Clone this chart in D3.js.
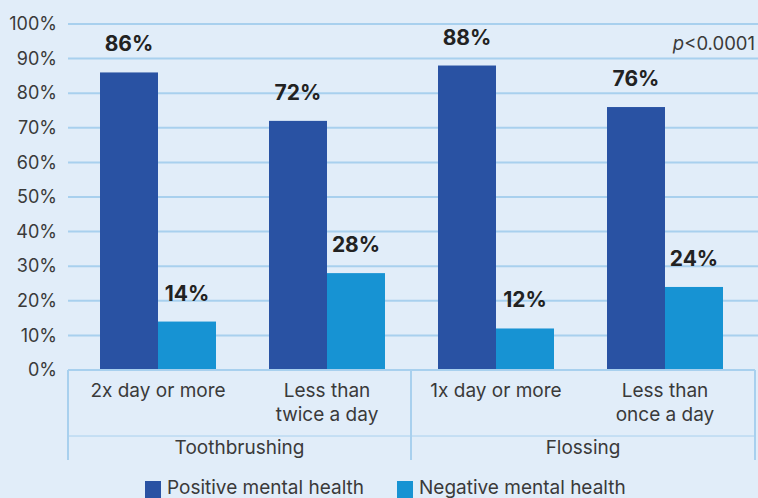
<!DOCTYPE html>
<html>
<head>
<meta charset="utf-8">
<script src="https://cdn.jsdelivr.net/npm/d3@7"></script>
<style>
  html, body { margin: 0; padding: 0; background: #E1EDF9; }
  svg { display: block; font-family: "Inter", "Noto Sans", sans-serif; }
</style>
</head>
<body>
<svg id="chart" width="758" height="498"></svg>
<script>
// Oral-hygiene habits vs. self-reported mental health
const groups = ["Toothbrushing", "Flossing"];
const categories = ["2x day or more", "Less than twice a day", "1x day or more", "Less than once a day"];
const categoryLines = [["2x day or more"], ["Less than", "twice a day"], ["1x day or more"], ["Less than", "once a day"]];
const categoryGroup = ["Toothbrushing", "Toothbrushing", "Flossing", "Flossing"];
const seriesNames = ["Positive mental health", "Negative mental health"];
const positive = [86, 72, 88, 76];
const negative = [14, 28, 12, 24];
const yTicks = [0, 10, 20, 30, 40, 50, 60, 70, 80, 90, 100];
const note = "p<0.0001";

const colors = ["#2952A3", "#1793D3"];
const gridColor = "#A8D0EE";
const textColor = "#3a3a3a";

const svg = d3.select("#chart");
const W = 758;
const plotLeft = 68, plotRight = 755, plotTop = 24, plotBottom = 370;

const y = d3.scaleLinear().domain([0, 100]).range([plotBottom, plotTop]);
const x = d3.scaleBand().domain(categories).range([73.5, 749.5]).paddingInner(0).paddingOuter(0);
const inner = d3.scaleBand().domain(seriesNames).range([0, x.bandwidth()]).paddingInner(0).paddingOuter(0.457);

// horizontal gridlines
svg.append("g").selectAll("line").data(yTicks.filter(d => d > 0)).join("line")
  .attr("x1", plotLeft).attr("x2", W)
  .attr("y1", d => y(d)).attr("y2", d => y(d))
  .attr("stroke", gridColor).attr("stroke-width", 2);

// y axis tick labels
const yAxis = d3.axisLeft(y).tickValues(yTicks).tickFormat(d => d + "%").tickSize(0).tickPadding(11);
const yg = svg.append("g").attr("transform", `translate(${plotLeft},0)`).call(yAxis);
yg.select(".domain").remove();
yg.selectAll("text").attr("font-size", 18).attr("fill", textColor).attr("font-family", "Inter, sans-serif");

// bars
const rows = categories.map((c, i) => ({ cat: c, vals: [positive[i], negative[i]] }));
const cg = svg.append("g").selectAll("g").data(rows).join("g")
  .attr("transform", d => `translate(${x(d.cat)},0)`);
cg.selectAll("rect").data(d => d.vals.map((v, j) => ({ v, s: seriesNames[j], j }))).join("rect")
  .attr("x", d => inner(d.s)).attr("width", inner.bandwidth())
  .attr("y", d => y(d.v)).attr("height", d => y(0) - y(d.v))
  .attr("fill", d => colors[d.j]);
cg.selectAll("text.val").data(d => d.vals.map((v, j) => ({ v, s: seriesNames[j] }))).join("text")
  .attr("class", "val")
  .attr("x", d => inner(d.s) + inner.bandwidth() / 2)
  .attr("y", d => y(d.v) - 21)
  .attr("text-anchor", "middle")
  .attr("font-size", 21).attr("font-weight", 700).attr("fill", "#222")
  .text(d => d.v + "%");

// category axis frame
const axisBottom = 460, groupLine = 436;
const sepX = x(categories[2]) - 0.5;
const frame = svg.append("g").attr("stroke", gridColor).attr("stroke-width", 2);
frame.append("line").attr("x1", plotLeft).attr("x2", plotRight).attr("y1", plotBottom).attr("y2", plotBottom);
frame.append("line").attr("x1", plotLeft).attr("x2", plotRight).attr("y1", groupLine).attr("y2", groupLine).attr("stroke-width", 1);
[plotLeft, sepX, plotRight].forEach(px => {
  frame.append("line").attr("x1", px).attr("x2", px).attr("y1", plotBottom).attr("y2", axisBottom);
});

// category labels
const lab = svg.append("g").attr("font-size", 19).attr("fill", textColor).attr("text-anchor", "middle");
categories.forEach((c, i) => {
  const cx = x(c) + x.bandwidth() / 2;
  const t = lab.append("text").attr("x", cx).attr("y", 397);
  categoryLines[i].forEach((ln, k) => t.append("tspan").attr("x", cx).attr("dy", k ? 24 : 0).text(ln));
});
groups.forEach(g => {
  const idx = categoryGroup.map((d, i) => d === g ? i : -1).filter(i => i >= 0);
  const x0 = idx[0] === 0 ? plotLeft : sepX;
  const x1 = idx[idx.length - 1] === categories.length - 1 ? plotRight : sepX;
  lab.append("text").attr("x", (x0 + x1) / 2).attr("y", 454).text(g);
});

// significance note
const pn = svg.append("text").attr("x", plotRight).attr("y", 50).attr("text-anchor", "end")
  .attr("font-size", 18.5).attr("fill", textColor);
pn.append("tspan").attr("font-style", "italic").text(note.slice(0, 1));
pn.append("tspan").text(note.slice(1));

// legend
const leg = svg.append("g");
const legX = [145, 397];
seriesNames.forEach((s, i) => {
  leg.append("rect").attr("x", legX[i]).attr("y", 481).attr("width", 16).attr("height", 17).attr("fill", colors[i]);
  leg.append("text").attr("x", legX[i] + 22).attr("y", 493.5).attr("font-size", 19).attr("fill", textColor).text(s);
});
</script>
</body>
</html>
